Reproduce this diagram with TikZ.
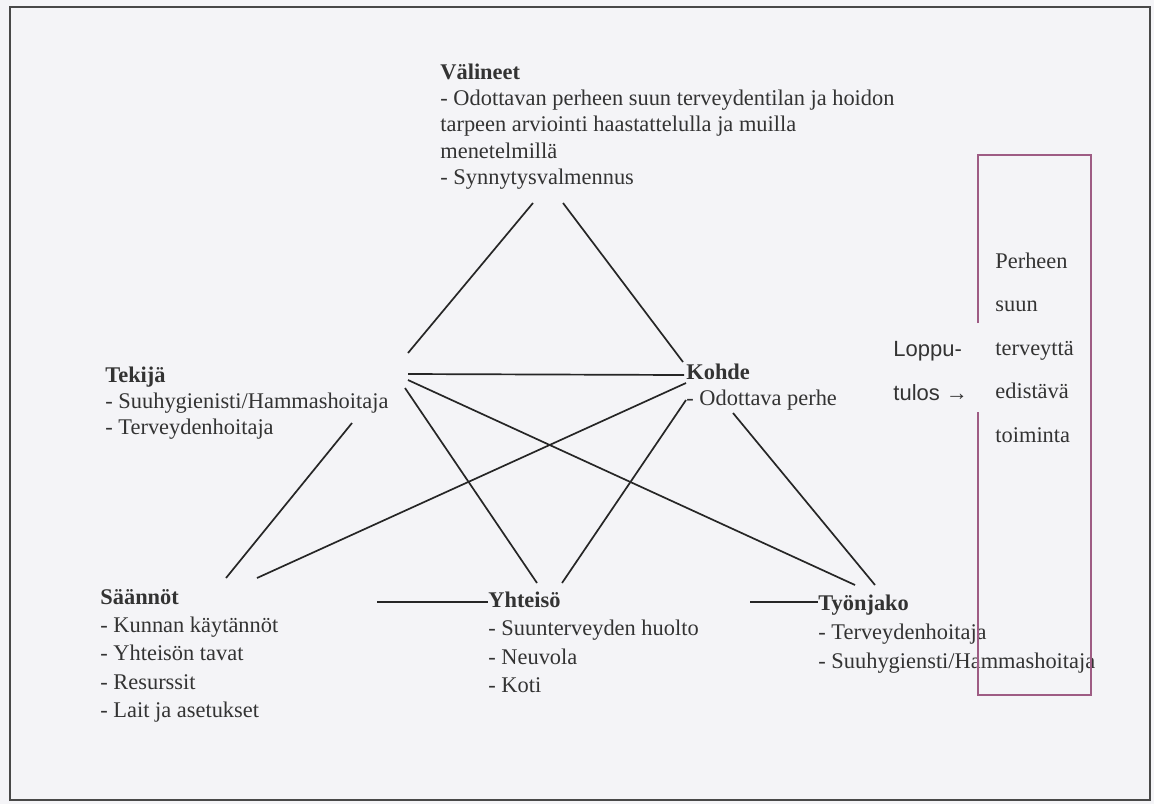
\documentclass[tikz,border=0pt]{standalone}
\usepackage{fontspec}
\setmainfont{Liberation Serif}
\newfontfamily\labelsans{Liberation Sans}
\definecolor{paper}{HTML}{F4F4F7}
\definecolor{ink}{HTML}{333333}
\definecolor{rule}{HTML}{262626}
\definecolor{framegray}{HTML}{484848}
\definecolor{mauve}{HTML}{9E5C84}
% fixes the height of a block's first line, so its baseline sits 8pt below the node's top
\newcommand{\firstline}{\rule{0pt}{8pt}}
\begin{document}
\begin{tikzpicture}[x=0.5pt,y=-0.5pt,
  block/.style={anchor=north west, inner sep=0pt, align=left, text=ink},
  link/.style={draw=rule, line width=0.85pt},
]
\fill[paper] (0,0) rectangle (1154,804);
\useasboundingbox (0,0) rectangle (1154,804);
\draw[framegray, line width=1.1pt] (10,7) rectangle (1150,800);

% text blocks
\node[block, font=\fontsize{11.2pt}{13.1pt}\selectfont] (valineet) at (440,63)
  {\firstline\textbf{Välineet}\\
   - Odottavan perheen suun terveydentilan ja hoidon\\
   tarpeen arviointi haastattelulla ja muilla\\
   menetelmillä\\
   - Synnytysvalmennus};
\node[block, font=\fontsize{11.2pt}{13pt}\selectfont] (tekija) at (105,366)
  {\firstline\textbf{Tekijä}\\
   - Suuhygienisti/Hammashoitaja\\
   - Terveydenhoitaja};
\node[block, font=\fontsize{11.2pt}{13pt}\selectfont] (kohde) at (686,363)
  {\firstline\textbf{Kohde}\\
   - Odottava perhe};
\node[block, font=\fontsize{11.2pt}{14.1pt}\selectfont] (saannot) at (100,588)
  {\firstline\textbf{Säännöt}\\
   - Kunnan käytännöt\\
   - Yhteisön tavat\\
   - Resurssit\\
   - Lait ja asetukset};
\node[block, font=\fontsize{11.2pt}{14.2pt}\selectfont] (yhteiso) at (488,591)
  {\firstline\textbf{Yhteisö}\\
   - Suunterveyden huolto\\
   - Neuvola\\
   - Koti};
\node[block, font=\fontsize{11.2pt}{14.5pt}\selectfont] (tyonjako) at (818,594)
  {\firstline\textbf{Työnjako}\\
   - Terveydenhoitaja\\
   - Suuhygiensti/Hammashoitaja};

% outcome
\node[block, font=\labelsans\fontsize{11pt}{22pt}\selectfont] (lopputulos) at (893,340)
  {\firstline Loppu-\\ tulos →};
\node[block, font=\fontsize{11.2pt}{21.75pt}\selectfont] (tulos) at (995,252)
  {\firstline Perheen\\ suun\\ terveyttä\\ edistävä\\ toiminta};
\coordinate (box-tl) at (978,155);
\coordinate (box-tr) at (1091,155);
\coordinate (box-br) at (1091,695);
\coordinate (box-bl) at (978,695);
\coordinate (gap-top) at (978,323);
\coordinate (gap-bot) at (978,412);
\draw[mauve, line width=0.8pt] (gap-top) -- (box-tl) -- (box-tr) -- (box-br) -- (box-bl) -- (gap-bot);

% end points of the connectors beside each block
\coordinate (v-left)  at (533,203);
\coordinate (v-right) at (563,203);
\coordinate (t-up)    at (408,353);
\coordinate (t-mid)   at (408,374);
\coordinate (t-low)   at (408,380);
\coordinate (t-steep) at (405,388);
\coordinate (t-down)  at (352,423);
\coordinate (k-up)    at (683,362);
\coordinate (k-mid)   at (684,375);
\coordinate (k-a)     at (686,383);
\coordinate (k-b)     at (686,400);
\coordinate (k-c)     at (733,413);
\coordinate (s-a)     at (226,578);
\coordinate (s-b)     at (257,578);
\coordinate (y-a)     at (537,583);
\coordinate (y-b)     at (562,583);
\coordinate (y-in)    at (377,602);
\coordinate (y-w)     at (488,602);
\coordinate (w-a)     at (855,585);
\coordinate (w-b)     at (875,585);
\coordinate (w-in)    at (750,602);
\coordinate (w-w)     at (818,602);

% connectors
\draw[link] (v-left) -- (t-up);
\draw[link] (v-right) -- (k-up);
\draw[link] (t-mid) -- (k-mid);
\draw[link] (t-low) -- (w-a);
\draw[link] (t-steep) -- (y-a);
\draw[link] (t-down) -- (s-a);
\draw[link] (k-a) -- (s-b);
\draw[link] (k-b) -- (y-b);
\draw[link] (k-c) -- (w-b);
\draw[link] (y-in) -- (y-w);
\draw[link] (w-in) -- (w-w);
\end{tikzpicture}
\end{document}
